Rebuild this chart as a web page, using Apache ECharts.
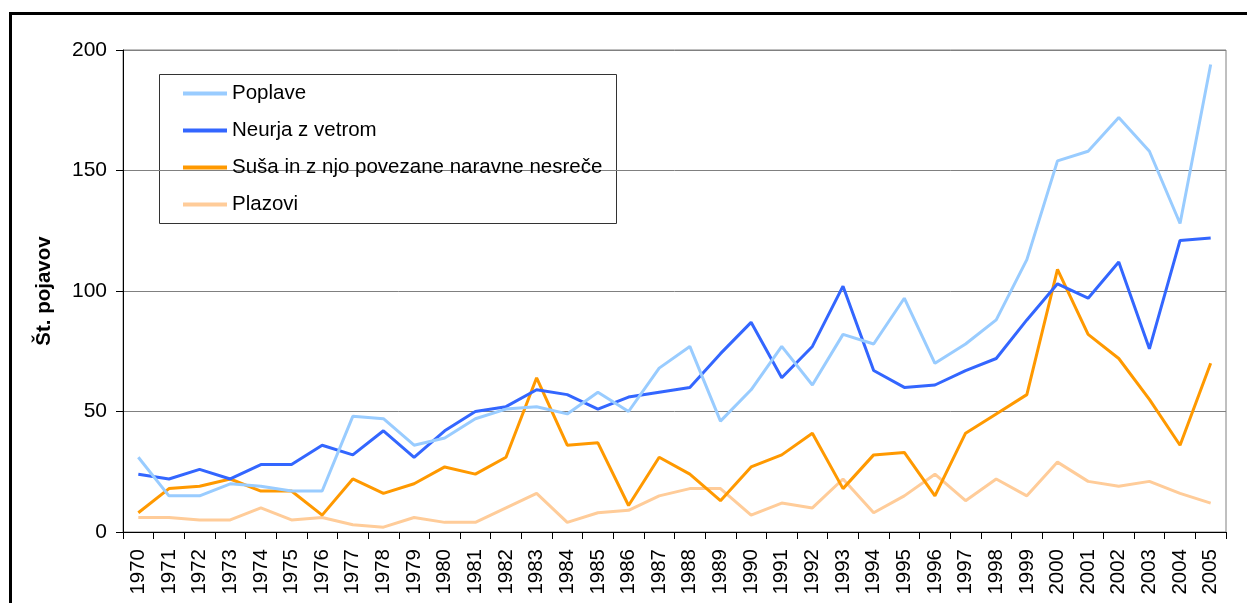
<!DOCTYPE html>
<html>
<head>
<meta charset="utf-8">
<script src="https://cdn.jsdelivr.net/npm/echarts@6/dist/echarts.min.js"></script>
<style>
  html, body { margin: 0; padding: 0; background: #fff; }
  #chart { width: 1247px; height: 603px; }
</style>
</head>
<body>
<div id="chart"></div>
<script>
// Years on the category axis
const years = ['1970','1971','1972','1973','1974','1975','1976','1977','1978','1979',
  '1980','1981','1982','1983','1984','1985','1986','1987','1988','1989',
  '1990','1991','1992','1993','1994','1995','1996','1997','1998','1999',
  '2000','2001','2002','2003','2004','2005'];

// Number of events per year
const poplave = [31,15,15,20,19,17,17,48,47,36,39,47,51,52,49,58,50,68,77,46,
  59,77,61,82,78,97,70,78,88,113,154,158,172,158,128,194];
const neurja = [24,22,26,22,28,28,36,32,42,31,42,50,52,59,57,51,56,58,60,74,
  87,64,77,102,67,60,61,67,72,88,103,97,112,76,121,122];
const susa = [8,18,19,22,17,17,7,22,16,20,27,24,31,64,36,37,11,31,24,13,
  27,32,41,18,32,33,15,41,49,57,109,82,72,55,36,70];
const plazovi = [6,6,5,5,10,5,6,3,2,6,4,4,10,16,4,8,9,15,18,18,
  7,12,10,22,8,15,24,13,22,15,29,21,19,21,16,12];

const seriesNames = ['Poplave', 'Neurja z vetrom', 'Suša in z njo povezane naravne nesreče', 'Plazovi'];
const seriesColors = ['#99CCFF', '#3366FF', '#FF9900', '#FFCC99'];
const seriesData = [poplave, neurja, susa, plazovi];

const yTicks = [0, 50, 100, 150, 200];

const font = 'Arial, "Liberation Sans", sans-serif';

const chart = echarts.init(document.getElementById('chart'), null, { renderer: 'canvas' });

chart.setOption({
  animation: false,
  backgroundColor: '#fff',
  grid: { left: 123, right: 21, top: 50, bottom: 71, containLabel: false,
          show: true, borderColor: '#808080', borderWidth: 1 },
  legend: {
    orient: 'vertical',
    left: 178, top: 78,
    icon: 'rect',
    itemWidth: 44, itemHeight: 4,
    itemGap: 16,
    textStyle: { fontFamily: font, fontSize: 20.5, color: '#000', lineHeight: 21, padding: [0, 0, 0, 0] },
    data: seriesNames
  },
  xAxis: {
    type: 'category',
    data: years,
    boundaryGap: true,
    axisLine: { lineStyle: { color: '#000', width: 1 } },
    axisTick: { show: true, length: 7, inside: false, alignWithLabel: false, lineStyle: { color: '#000' } },
    axisLabel: { rotate: 90, fontFamily: font, fontSize: 20.5, color: '#000', margin: 17, interval: 0 },
    splitLine: { show: false }
  },
  yAxis: {
    type: 'value',
    min: yTicks[0], max: yTicks[yTicks.length - 1], interval: 50,
    name: 'Št. pojavov',
    nameLocation: 'middle',
    nameRotate: 90,
    nameGap: 68,
    nameTextStyle: { fontFamily: font, fontSize: 20.5, fontWeight: 'bold', color: '#000' },
    axisLine: { show: true, lineStyle: { color: '#000', width: 1 } },
    axisTick: { show: true, length: 7, inside: false, lineStyle: { color: '#000' } },
    axisLabel: { fontFamily: font, fontSize: 21, color: '#000', margin: 16 },
    splitLine: { show: true, lineStyle: { color: '#808080', width: 1 } }
  },
  series: seriesNames.map((name, i) => ({
    name: name,
    type: 'line',
    data: seriesData[i],
    symbol: 'none',
    showSymbol: false,
    lineStyle: { color: seriesColors[i], width: 3 },
    itemStyle: { color: seriesColors[i] },
    z: 10 - i
  })),
  graphic: [
    {
      type: 'rect',
      shape: { x: 10.5, y: 13.5, width: 1260, height: 620 },
      style: { fill: 'none', stroke: '#000', lineWidth: 3 },
      z: 100
    },
    {
      type: 'rect',
      shape: { x: 159.5, y: 74.5, width: 457, height: 149 },
      style: { fill: '#fff', stroke: '#333', lineWidth: 1 },
      z: 0, zlevel: 0
    }
  ]
});
</script>
</body>
</html>
